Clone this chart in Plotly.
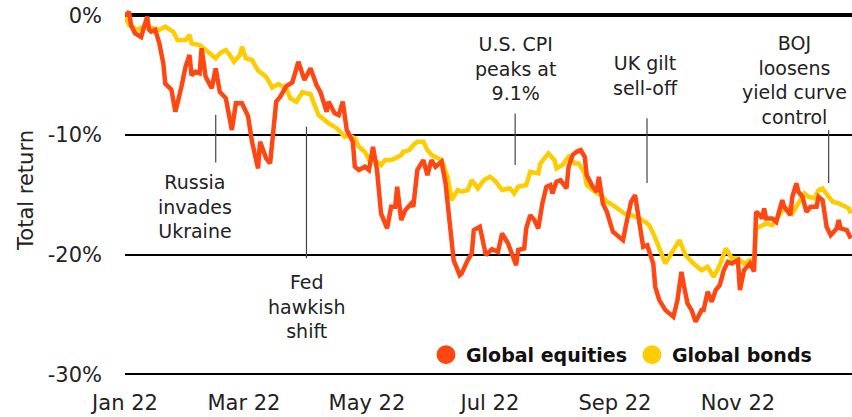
import plotly.graph_objects as go

# Global equities total return (%), 2022
eq_dates = [
    "2022-01-01", "2022-01-03", "2022-01-04", "2022-01-06", "2022-01-09", "2022-01-12", "2022-01-13",
    "2022-01-14", "2022-01-16", "2022-01-18", "2022-01-20", "2022-01-21", "2022-01-24", "2022-01-26",
    "2022-01-29", "2022-01-31", "2022-02-02", "2022-02-03", "2022-02-05", "2022-02-07", "2022-02-08",
    "2022-02-10", "2022-02-13", "2022-02-15", "2022-02-17", "2022-02-20", "2022-02-23", "2022-02-25",
    "2022-02-28", "2022-03-03", "2022-03-05", "2022-03-08", "2022-03-09", "2022-03-12", "2022-03-14",
    "2022-03-17", "2022-03-19", "2022-03-22", "2022-03-25", "2022-03-28", "2022-03-31", "2022-04-03",
    "2022-04-06", "2022-04-08", "2022-04-11", "2022-04-12", "2022-04-15", "2022-04-17", "2022-04-19",
    "2022-04-21", "2022-04-24", "2022-04-25", "2022-04-27", "2022-04-30", "2022-05-02", "2022-05-04",
    "2022-05-06", "2022-05-08", "2022-05-11", "2022-05-13", "2022-05-15", "2022-05-16", "2022-05-18",
    "2022-05-20", "2022-05-23", "2022-05-24", "2022-05-26", "2022-05-29", "2022-05-31", "2022-06-02",
    "2022-06-04", "2022-06-07", "2022-06-09", "2022-06-11", "2022-06-13", "2022-06-16", "2022-06-17",
    "2022-06-20", "2022-06-22", "2022-06-23", "2022-06-26", "2022-06-29", "2022-07-02", "2022-07-05",
    "2022-07-07", "2022-07-10", "2022-07-12", "2022-07-14", "2022-07-15", "2022-07-18", "2022-07-19",
    "2022-07-21", "2022-07-23", "2022-07-25", "2022-07-27", "2022-07-29", "2022-07-31", "2022-08-01",
    "2022-08-03", "2022-08-05", "2022-08-08", "2022-08-09", "2022-08-11", "2022-08-13", "2022-08-15",
    "2022-08-17", "2022-08-18", "2022-08-21", "2022-08-23", "2022-08-24", "2022-08-26", "2022-08-28",
    "2022-08-31", "2022-09-03", "2022-09-05", "2022-09-07", "2022-09-09", "2022-09-11", "2022-09-13",
    "2022-09-15", "2022-09-17", "2022-09-20", "2022-09-21", "2022-09-23", "2022-09-26", "2022-09-30",
    "2022-10-02", "2022-10-04", "2022-10-05", "2022-10-07", "2022-10-09", "2022-10-11", "2022-10-14",
    "2022-10-15", "2022-10-17", "2022-10-19", "2022-10-21", "2022-10-23", "2022-10-25", "2022-10-27",
    "2022-10-29", "2022-11-01", "2022-11-02", "2022-11-04", "2022-11-07", "2022-11-09", "2022-11-10",
    "2022-11-11", "2022-11-13", "2022-11-14", "2022-11-15", "2022-11-18", "2022-11-20", "2022-11-23",
    "2022-11-24", "2022-11-27", "2022-11-28", "2022-11-30", "2022-12-01", "2022-12-03", "2022-12-05",
    "2022-12-07", "2022-12-10", "2022-12-11", "2022-12-13", "2022-12-15", "2022-12-17", "2022-12-20",
    "2022-12-21", "2022-12-22", "2022-12-25", "2022-12-27",
]
eq_values = [
    0.0, 0.3, -0.8, -1.5, -1.8, -0.1, -1.2,
    -1.35, -1.2, -2.3, -4.0, -5.7, -6.2, -8.05,
    -5.96, -4.3, -3.3, -5.0, -4.7, -4.84, -2.74,
    -5.12, -6.09, -4.42, -6.38, -6.93, -9.58, -7.35,
    -7.35, -8.4, -10.56, -12.79, -10.56, -11.95, -12.37,
    -7.21, -6.79, -5.9, -5.6, -3.87, -5.4, -4.42,
    -5.82, -6.44, -8.05, -7.21, -8.18, -8.33, -7.21,
    -9.58, -10.56, -12.65, -12.93, -12.65, -12.93, -10.98,
    -12.93, -16.55, -17.81, -16.0, -16.0, -14.33, -17.11,
    -16.28, -15.72, -16.0, -12.93, -12.09, -13.35, -12.09,
    -12.65, -12.23, -14.04, -17.39, -20.46, -21.72, -21.57,
    -20.46, -19.9, -17.95, -17.67, -20.04, -19.54, -19.77,
    -18.23, -19.06, -20.04, -20.88, -19.62, -19.48, -17.81,
    -16.69, -17.11, -17.81, -15.72, -14.33, -14.18, -14.88,
    -13.91, -13.77, -14.46, -12.65, -11.67, -11.4, -11.26,
    -11.82, -13.35, -14.33, -14.74, -13.49, -15.72, -16.42,
    -18.09, -18.51, -18.79, -17.11, -15.58, -15.02, -17.53,
    -19.35, -19.21, -20.74, -22.69, -23.81, -24.64, -25.2,
    -23.81, -21.44, -22.41, -24.08, -24.64, -25.62, -24.64,
    -24.64, -23.11, -23.95, -22.97, -22.55, -21.3, -20.6,
    -20.74, -20.46, -22.97, -21.3, -20.74, -21.4, -16.42,
    -16.55, -16.97, -16.13, -16.97, -16.97, -17.26, -15.44,
    -16.0, -16.69, -15.16, -14.04, -14.74, -15.16, -16.42,
    -16.0, -16.0, -15.16, -15.44, -17.67, -18.37, -17.81,
    -17.11, -17.81, -17.95, -18.65,
]

# Global bonds total return (%), 2022
bd_dates = [
    "2022-01-01", "2022-01-03", "2022-01-07", "2022-01-10", "2022-01-15", "2022-01-18", "2022-01-21",
    "2022-01-25", "2022-01-27", "2022-01-31", "2022-02-02", "2022-02-03", "2022-02-07", "2022-02-09",
    "2022-02-12", "2022-02-15", "2022-02-17", "2022-02-20", "2022-02-22", "2022-02-24", "2022-02-27",
    "2022-02-28", "2022-03-02", "2022-03-05", "2022-03-08", "2022-03-12", "2022-03-15", "2022-03-18",
    "2022-03-22", "2022-03-24", "2022-03-27", "2022-03-30", "2022-04-01", "2022-04-03", "2022-04-05",
    "2022-04-07", "2022-04-10", "2022-04-12", "2022-04-15", "2022-04-17", "2022-04-20", "2022-04-22",
    "2022-04-25", "2022-04-27", "2022-04-30", "2022-05-02", "2022-05-06", "2022-05-08", "2022-05-10",
    "2022-05-13", "2022-05-15", "2022-05-18", "2022-05-19", "2022-05-22", "2022-05-24", "2022-05-26",
    "2022-05-29", "2022-05-31", "2022-06-02", "2022-06-05", "2022-06-07", "2022-06-10", "2022-06-12",
    "2022-06-15", "2022-06-17", "2022-06-20", "2022-06-22", "2022-06-25", "2022-06-28", "2022-07-01",
    "2022-07-04", "2022-07-07", "2022-07-11", "2022-07-13", "2022-07-15", "2022-07-19", "2022-07-21",
    "2022-07-25", "2022-07-26", "2022-07-30", "2022-08-02", "2022-08-03", "2022-08-06", "2022-08-09",
    "2022-08-12", "2022-08-14", "2022-08-17", "2022-08-18", "2022-08-22", "2022-08-25", "2022-08-28",
    "2022-08-31", "2022-09-03", "2022-09-06", "2022-09-09", "2022-09-13", "2022-09-16", "2022-09-18",
    "2022-09-21", "2022-09-23", "2022-09-26", "2022-09-29", "2022-10-03", "2022-10-06", "2022-10-10",
    "2022-10-14", "2022-10-17", "2022-10-20", "2022-10-23", "2022-10-26", "2022-10-29", "2022-11-01",
    "2022-11-04", "2022-11-07", "2022-11-09", "2022-11-10", "2022-11-13", "2022-11-15", "2022-11-18",
    "2022-11-20", "2022-11-23", "2022-11-26", "2022-11-28", "2022-12-01", "2022-12-04", "2022-12-06",
    "2022-12-09", "2022-12-11", "2022-12-13", "2022-12-16", "2022-12-18", "2022-12-21", "2022-12-23",
    "2022-12-26", "2022-12-27",
]
bd_values = [
    -0.1, -0.79, -1.21, -0.94, -1.07, -1.21, -0.94,
    -1.36, -2.05, -2.05, -1.63, -2.33, -2.47, -2.74,
    -3.16, -3.58, -3.16, -2.89, -3.31, -3.87, -3.31,
    -2.61, -3.58, -3.72, -4.6, -5.12, -6.03, -5.73,
    -6.09, -6.93, -7.21, -6.4, -6.51, -6.57, -7.49,
    -8.33, -8.74, -9.02, -9.31, -9.58, -10.14, -10.0,
    -10.28, -10.98, -11.4, -12.09, -12.23, -12.51, -12.09,
    -12.09, -11.95, -11.67, -11.4, -11.26, -10.84, -10.56,
    -10.56, -11.26, -11.67, -11.95, -12.09, -13.49, -15.44,
    -14.6, -14.74, -14.6, -13.77, -14.46, -13.77, -13.49,
    -13.91, -14.6, -14.46, -14.88, -14.33, -14.18, -13.07,
    -13.21, -12.37, -11.53, -12.09, -12.79, -12.51, -11.82,
    -12.37, -12.37, -13.21, -14.18, -14.74, -15.02, -15.58,
    -15.86, -16.28, -16.6, -16.69, -16.95, -17.26, -17.53,
    -18.6, -19.48, -20.74, -19.9, -18.79, -20.04, -20.74,
    -21.3, -21.02, -21.86, -20.88, -19.48, -20.32, -20.32,
    -20.74, -20.46, -20.7, -17.81, -17.53, -17.39, -17.53,
    -17.11, -16.28, -16.13, -16.55, -15.72, -14.88, -15.16,
    -15.3, -14.6, -14.46, -15.16, -15.58, -15.72, -15.86,
    -16.13, -16.55,
]

y_ticks = [-30, -20, -10, 0]
y_tick_labels = ["-30%", "-20%", "-10%", "0%"]

EQ_COLOR = "#ff4713"
BD_COLOR = "#ffcc00"
FONT = "DejaVu Sans"

# event labels: (text, text date, text y, line date, line y0, line y1)
events = [
    ("Russia<br>invades<br>Ukraine", "2022-02-04 17:00", -16.0, "2022-02-15", -8.3, -12.3),
    ("Fed<br>hawkish<br>shift", "2022-04-01", -24.3, "2022-04-01", -9.3, -20.3),
    ("U.S. CPI<br>peaks at<br>9.1%", "2022-07-13 12:00", -4.4, "2022-07-13 12:00", -8.2, -12.5),
    ("UK gilt<br>sell-off", "2022-09-15 22:00", -5.0, "2022-09-16 22:00", -8.6, -14.0),
    ("BOJ<br>loosens<br>yield curve<br>control", "2022-11-28 20:00", -5.4, "2022-12-16", -9.6, -14.0),
]

fig = go.Figure()

fig.add_trace(go.Scatter(x=bd_dates, y=bd_values, mode="lines", line=dict(color=BD_COLOR, width=4.5),
                         showlegend=False, hoverinfo="skip"))
fig.add_trace(go.Scatter(x=eq_dates, y=eq_values, mode="lines", line=dict(color=EQ_COLOR, width=4.5),
                         showlegend=False, hoverinfo="skip"))

# legend entries shown as filled circles
fig.add_trace(go.Scatter(x=[None], y=[None], mode="markers", name="Global equities",
                         marker=dict(color=EQ_COLOR, size=16, line=dict(color=EQ_COLOR, width=3))))
fig.add_trace(go.Scatter(x=[None], y=[None], mode="markers", name="Global bonds",
                         marker=dict(color=BD_COLOR, size=16, line=dict(color=BD_COLOR, width=3))))

for text, tx, ty, lx, ly0, ly1 in events:
    fig.add_shape(type="line", x0=lx, x1=lx, y0=ly0, y1=ly1, xref="x", yref="y",
                  line=dict(color="#444444", width=1.2))
    fig.add_annotation(x=tx, y=ty, xref="x", yref="y", text=text, showarrow=False,
                       font=dict(family=FONT, size=19, color="#222222"), align="center")

fig.update_layout(
    width=852, height=417,
    margin=dict(l=125, r=0, t=4, b=41),
    paper_bgcolor="white", plot_bgcolor="white",
    font=dict(family=FONT, color="#222222"),
    showlegend=True,
    legend=dict(orientation="h", x=0.414, xanchor="left", y=0.057, yanchor="middle",
                font=dict(family=FONT, size=19, color="#111111", weight="bold"),
                bgcolor="rgba(0,0,0,0)", itemclick=False),
    xaxis=dict(type="date", range=["2022-01-01", "2022-12-27 14:00"], dtick="M2", tick0="2022-01-01",
               tickformat="%b %y", showgrid=False, zeroline=False, showline=False, ticks="",
               automargin=False, ticklabelstandoff=12, ticklabeloverflow="allow",
               tickfont=dict(family=FONT, size=21, color="#222222")),
    yaxis=dict(range=[-30.15, 0.96], tickvals=y_ticks, ticktext=y_tick_labels,
               showgrid=True, gridcolor="black", gridwidth=2,
               zeroline=True, zerolinecolor="black", zerolinewidth=3.5,
               showline=False, ticks="", ticklabelstandoff=22, automargin=False,
               ticklabeloverflow="allow",
               tickfont=dict(family=FONT, size=21, color="#222222"),
               title=dict(text="Total return", standoff=8, font=dict(family=FONT, size=21, color="#222222"))),
)

# drop the page's default body margin so the figure sits in the corner
fig.write_html("out.html", config={"displayModeBar": False},
               post_script="document.body.style.margin = '0';")
